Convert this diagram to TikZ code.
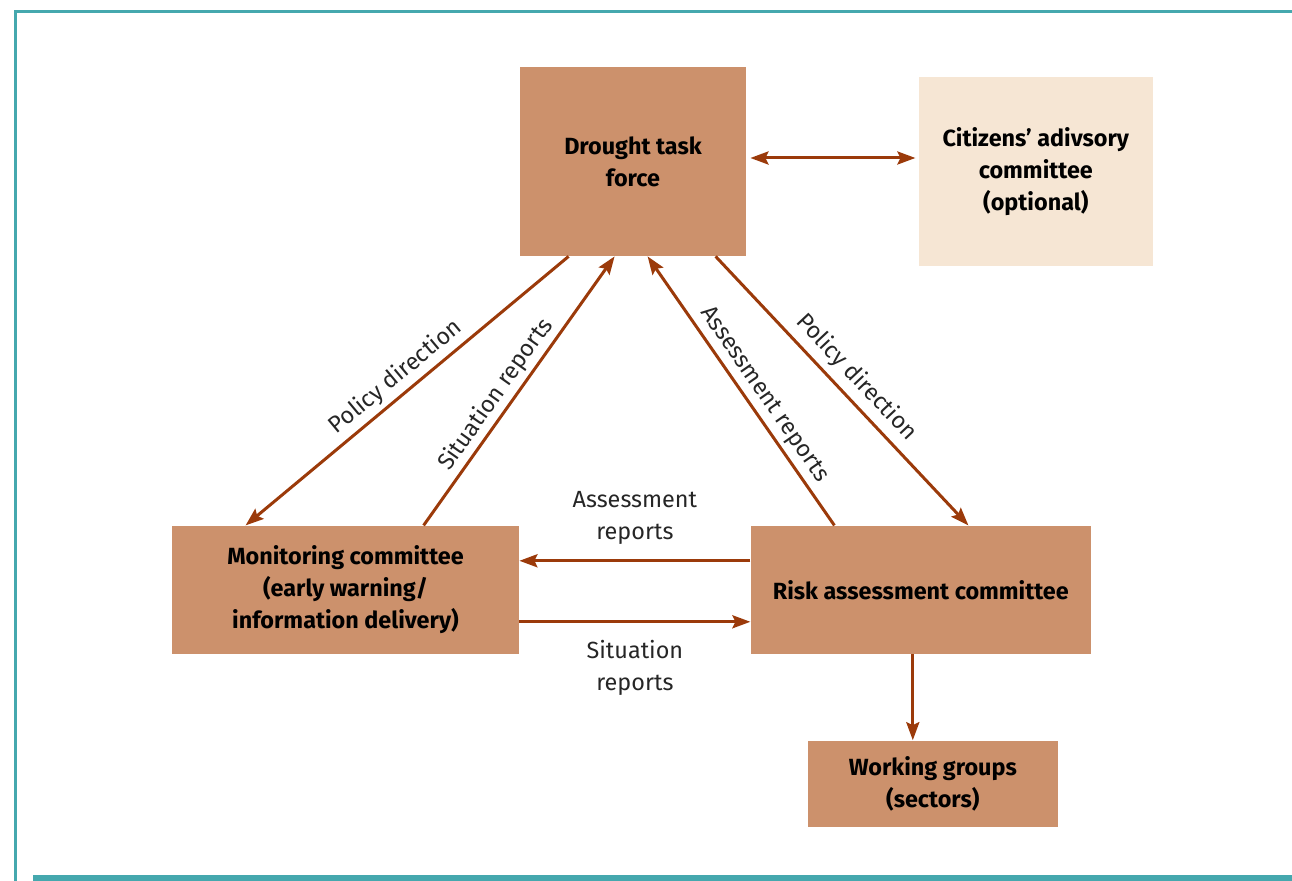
\documentclass[tikz,border=0pt]{standalone}
\usepackage{fontspec}
\setmainfont{Fira Sans}
\usetikzlibrary{positioning, arrows.meta}
\definecolor{boxbrown}{RGB}{204,145,108}
\definecolor{boxcream}{RGB}{246,230,212}
\definecolor{rust}{RGB}{155,58,10}
\definecolor{frameteal}{RGB}{69,168,174}
\tikzstyle{box} = [rectangle, align=center, inner sep=0pt, fill=boxbrown, text=black, font=\bfseries\fontsize{11.7}{16}\selectfont]
\tikzstyle{adv} = [box, fill=boxcream]
\tikzstyle{arrow} = [line width=1.5pt, draw=rust, ->]
\tikzstyle{lbl} = [text=black!85, font=\fontsize{11.7}{16}\selectfont]

\begin{document}
\begin{tikzpicture}[>={Stealth[length=9pt,width=6.5pt,inset=1.5pt]}]
	\useasboundingbox (0,0) rectangle (646pt,-440.5pt);
	% frame
	\draw [frameteal, line width=1.5pt] (7.5pt,-440.5pt) -- (7.5pt,-5.65pt) -- (646pt,-5.65pt);
	\fill [frameteal] (16.5pt,-437.5pt) rectangle (646pt,-440.5pt);
	% boxes
	\node (drought) [box, minimum width=113pt, minimum height=94.5pt] at (316.5pt,-80.75pt) {Drought task\\force};
	\node (citizens) [adv, right=86pt of drought, yshift=-5pt, minimum width=117pt, minimum height=94.5pt] {Citizens' adivsory\\committee\\(optional)};
	\node (monitor) [box, below=134.5pt of drought, xshift=-143.75pt, minimum width=173.5pt, minimum height=64pt] {Monitoring committee\\(early warning/\\information delivery)};
	\node (risk) [box, right=115.5pt of monitor, minimum width=170pt, minimum height=64pt] {Risk assessment committee};
	\node (work) [box, below=43pt of risk, xshift=6pt, minimum width=125pt, minimum height=43pt] {Working groups\\(sectors)};
	% connectors
	\draw [arrow, <->, shorten <=2pt, shorten >=1.5pt] ([yshift=1.75pt]drought.east) -- ([yshift=6.75pt]citizens.west);
	\draw [arrow] ([xshift=24.5pt]drought.south west) -- node [lbl, sloped, above, pos=0.5, yshift=-1pt] {Policy direction} ([xshift=37pt]monitor.north west);
	\draw [arrow] ([xshift=126pt]monitor.north west) -- node [lbl, sloped, above, pos=0.45, yshift=-1.5pt] {Situation reports} ([xshift=47.5pt]drought.south west);
	\draw [arrow] ([xshift=42pt]risk.north west) -- node [lbl, sloped, above, pos=0.45, yshift=-1pt] {Assessment reports} ([xshift=64pt]drought.south west);
	\draw [arrow] ([xshift=98pt]drought.south west) -- node [lbl, sloped, above, pos=0.5] {Policy direction} ([xshift=109pt]risk.north west);
	\draw [arrow] ([yshift=14.5pt]risk.west) -- node [lbl, above, align=center, yshift=4pt] {Assessment\\reports} ([yshift=14.5pt]monitor.east);
	\draw [arrow] ([yshift=-16pt]monitor.east) -- node [lbl, below, align=center, yshift=-5pt] {Situation\\reports} ([yshift=-16pt]risk.west);
	\draw [arrow] ([xshift=-4pt]risk.south) -- ([xshift=-10pt]work.north);
\end{tikzpicture}
\end{document}
